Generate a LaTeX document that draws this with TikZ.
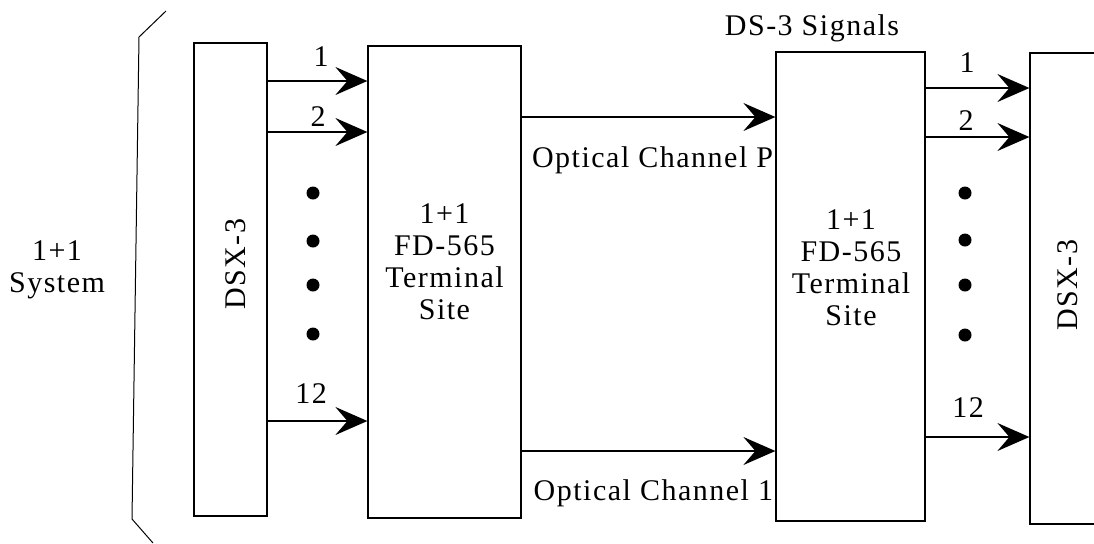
\documentclass[tikz,border=0pt]{standalone}
\usepackage{fontspec}
\setmainfont[LetterSpace=5]{Liberation Serif}
\usetikzlibrary{arrows.meta}
\begin{document}
\begin{tikzpicture}[x=0.5pt,y=-0.5pt,
  every node/.style={font=\fontsize{15}{16}\selectfont},
  blockbox/.style={draw,line width=0.6pt,inner sep=0pt},
  txt/.style={align=center,inner sep=0pt},
  sig/.style={line width=0.75pt,-{Stealth[length=16pt,width=14pt,inset=6pt]}},
  dotm/.style={circle,fill,inner sep=0pt,minimum size=6.5pt}]
\useasboundingbox (0,0) rectangle (1094,543);
\clip (0,0) rectangle (1094,543);
% bracket
\draw[line width=0.5pt] (166,11) -- (139,37) -- (132,519) -- (153,543);
\node[txt] (sys) at (57,270) {1+1\\System};
% boxes
\node[blockbox,minimum width=36.5pt,minimum height=236.5pt] (dsxl) at (230.5,279.5) {};
\node[txt,rotate=90] (dsxlt) at (236,264) {DSX-3};
\node[blockbox,minimum width=76.5pt,minimum height=236pt] (ts1) at (444.5,282) {};
\node[txt] (ts1t) at (444.5,262) {1+1\\FD-565\\Terminal\\Site};
\node[blockbox,minimum width=74.5pt,minimum height=234.5pt] (ts2) at (850.5,286.5) {};
\node[txt] (ts2t) at (851,268) {1+1\\FD-565\\Terminal\\Site};
\node[blockbox,minimum width=40pt,minimum height=235.5pt] (dsxr) at (1070,288.5) {};
\node[txt,rotate=90] (dsxrt) at (1068,285) {DSX-3};
\node[txt] (ds3) at (812,28) {DS-3 Signals};
% left signals
\draw[sig] (dsxl.east |- 0,81) -- (ts1.west |- 0,81);
\draw[sig] (dsxl.east |- 0,132) -- (ts1.west |- 0,132);
\draw[sig] (dsxl.east |- 0,421) -- (ts1.west |- 0,421);
\node[txt] (l1) at (321,57) {1};
\node[txt] (l2) at (318,117) {2};
\node[txt] (l12) at (311,394) {12};
\foreach \y [count=\i] in {193,241,285,334} \node[dotm] (ld\i) at (313,\y) {};
% optical channels
\draw[sig] (ts1.east |- 0,117) -- (ts2.west |- 0,117);
\draw[sig] (ts1.east |- 0,451) -- (ts2.west |- 0,451);
\node[txt,anchor=east] (ocp) at ([xshift=-1pt]ts2.west |- 0,160) {Optical Channel P};
\node[txt,anchor=east] (oc1) at ([xshift=-1pt]ts2.west |- 0,493) {Optical Channel 1};
% right signals
\draw[sig] (ts2.east |- 0,88) -- (dsxr.west |- 0,88);
\draw[sig] (ts2.east |- 0,137) -- (dsxr.west |- 0,137);
\draw[sig] (ts2.east |- 0,437) -- (dsxr.west |- 0,437);
\node[txt] (r1) at (967,63) {1};
\node[txt] (r2) at (966,121) {2};
\node[txt] (r12) at (968,408) {12};
\foreach \y [count=\i] in {193,240,285,335} \node[dotm] (rd\i) at (965,\y) {};
\end{tikzpicture}
\end{document}
